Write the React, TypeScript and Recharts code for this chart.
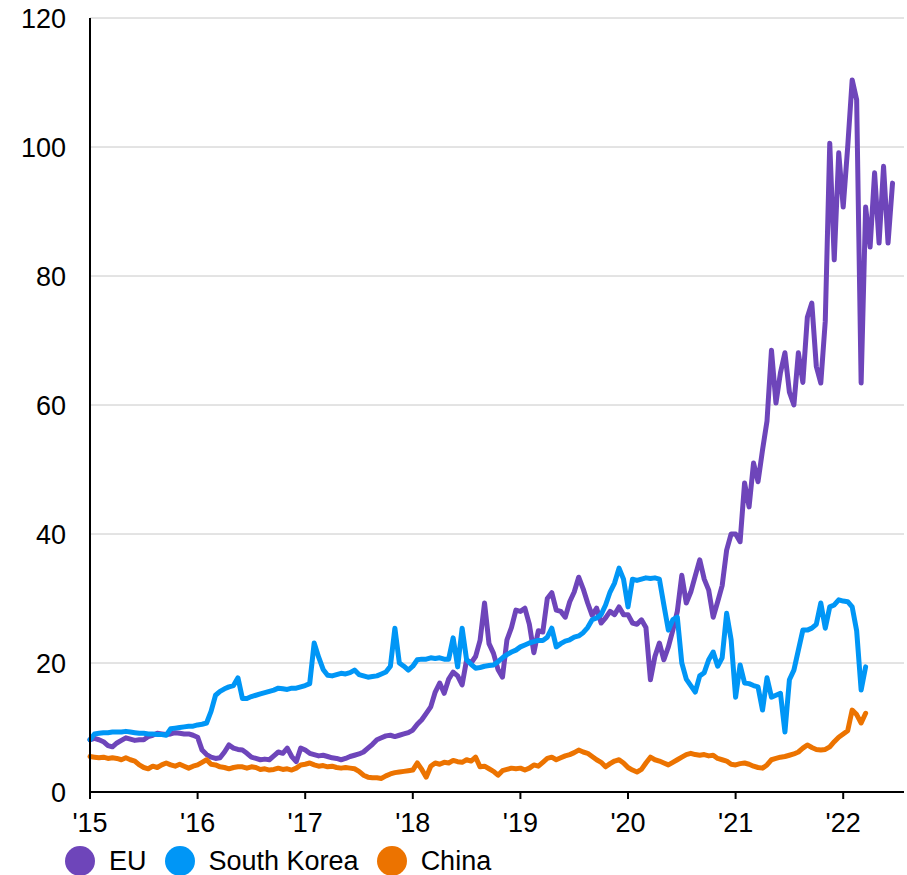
import React from 'react';
import { LineChart, Line, XAxis, YAxis, CartesianGrid } from 'recharts';

// half-month steps starting Jan 2015
const START_YEAR = 2015;
const STEPS_PER_YEAR = 24;

const years = [2015, 2016, 2017, 2018, 2019, 2020, 2021, 2022];
const yTicks = [0, 20, 40, 60, 80, 100, 120];

const euValues = [
  // 2015
  8.1, 8.3, 8.1, 7.8, 7.2, 7.0, 7.6, 8.0, 8.4, 8.2, 8.0, 8.1, 8.1, 8.6, 8.8, 9.1, 9.0, 8.9, 9.0, 9.2, 9.1, 9.0, 9.0, 8.8,
  // 2016
  8.5, 6.5, 5.8, 5.4, 5.2, 5.3, 6.2, 7.3, 6.8, 6.6, 6.5, 6.0, 5.4, 5.2, 5.0, 5.1, 5.0, 5.6, 6.2, 6.0, 6.8, 5.5, 4.7, 6.8,
  // 2017
  6.5, 6.0, 5.8, 5.6, 5.7, 5.5, 5.3, 5.2, 5.0, 5.2, 5.5, 5.7, 5.9, 6.2, 6.8, 7.4, 8.1, 8.4, 8.7, 8.8, 8.6, 8.8, 9.0, 9.2,
  // 2018
  9.6, 10.5, 11.2, 12.2, 13.2, 15.5, 16.9, 15.3, 17.5, 18.6, 18.0, 16.6, 20.5, 20.0, 21.0, 23.5, 29.3, 23.0, 21.5, 19.0, 17.8, 23.6, 25.5, 28.2,
  // 2019
  28.0, 28.5, 26.0, 21.6, 25.0, 24.8, 30.0, 30.9, 28.2, 28.0, 27.1, 29.5, 31.0, 33.3, 31.5, 29.3, 27.4, 28.5, 26.2, 27.0, 28.0, 27.5, 28.7, 27.5,
  // 2020
  27.5, 26.2, 26.0, 26.7, 25.5, 17.4, 21.0, 23.1, 20.5, 22.5, 25.1, 28.0, 33.6, 29.3, 31.0, 33.5, 36.0, 33.0, 31.3, 27.1, 29.5, 32.0, 37.5, 40.0,
  // 2021
  40.0, 38.8, 47.9, 44.2, 51.0, 48.1, 53.0, 57.5, 68.5, 60.3, 65.0, 68.1, 62.0, 60.0, 68.1, 63.5, 73.6, 75.8, 66.0, 63.4, 73.0, 100.6, 82.5, 99.1,
  // 2022
  90.7, 100.0, 110.4, 107.3, 63.4, 90.7, 84.5, 96.0, 85.1, 97.0, 85.1, 94.4,
];

const koreaValues = [
  // 2015
  8.1, 9.0, 9.1, 9.2, 9.2, 9.3, 9.3, 9.3, 9.4, 9.3, 9.2, 9.1, 9.1, 9.0, 9.0, 8.9, 8.9, 8.8, 9.8, 9.9, 10.0, 10.1, 10.2, 10.2,
  // 2016
  10.4, 10.5, 10.7, 12.5, 15.0, 15.6, 16.0, 16.3, 16.5, 17.7, 14.5, 14.5, 14.8, 15.0, 15.2, 15.4, 15.6, 15.8, 16.1, 16.0, 15.9, 16.1, 16.1, 16.3,
  // 2017
  16.5, 16.8, 23.1, 20.9, 19.0, 18.1, 18.0, 18.2, 18.4, 18.3, 18.5, 18.9, 18.2, 18.0, 17.8, 17.9, 18.0, 18.3, 18.6, 19.5, 25.4, 20.0, 19.5, 18.9,
  // 2018
  19.5, 20.5, 20.6, 20.6, 20.8, 20.7, 20.8, 20.6, 20.6, 23.9, 19.4, 25.4, 20.5, 19.8, 19.2, 19.3, 19.5, 19.6, 19.7, 20.2, 20.8, 21.3, 21.7, 22.0,
  // 2019
  22.5, 22.8, 23.1, 23.3, 23.5, 23.5, 24.0, 25.4, 22.5, 23.0, 23.4, 23.6, 24.0, 24.2, 24.7, 25.5, 26.7, 27.0, 27.5, 29.0, 31.0, 32.4, 34.7, 33.0,
  // 2020
  28.7, 33.0, 32.8, 33.0, 33.2, 33.1, 33.2, 33.0, 29.0, 25.1, 26.7, 27.1, 20.0, 17.5, 16.5, 15.5, 18.0, 18.5, 20.5, 21.7, 19.5, 20.8, 27.7, 23.6,
  // 2021
  14.7, 19.7, 16.9, 16.8, 16.5, 16.3, 12.7, 17.7, 14.7, 15.0, 15.3, 9.3, 17.4, 18.9, 22.0, 25.1, 25.1, 25.4, 26.0, 29.3, 25.4, 28.7, 29.0, 29.8,
  // 2022
  29.6, 29.5, 28.7, 25.0, 15.8, 19.4,
];

const chinaValues = [
  // 2015
  5.5, 5.4, 5.3, 5.4, 5.2, 5.3, 5.2, 5.0, 5.3, 5.0, 4.8, 4.2, 3.8, 3.6, 4.0, 3.8, 4.2, 4.5, 4.2, 4.0, 4.3, 4.0, 3.7, 4.0,
  // 2016
  4.2, 4.6, 5.0, 4.3, 4.2, 3.9, 3.8, 3.6, 3.8, 3.9, 3.9, 3.7, 3.9, 3.8, 3.5, 3.6, 3.4, 3.5, 3.7, 3.5, 3.6, 3.4, 3.7, 4.2,
  // 2017
  4.3, 4.5, 4.2, 4.0, 4.1, 3.9, 4.0, 3.8, 3.7, 3.8, 3.7, 3.6, 3.2, 2.6, 2.3, 2.2, 2.2, 2.1, 2.5, 2.8, 3.0, 3.1, 3.2, 3.3,
  // 2018
  3.4, 4.5, 3.5, 2.3, 4.0, 4.5, 4.3, 4.6, 4.5, 4.9, 4.7, 4.6, 5.0, 4.8, 5.4, 3.9, 4.0, 3.6, 3.2, 2.6, 3.3, 3.5, 3.7, 3.6,
  // 2019
  3.7, 3.4, 3.7, 4.2, 4.0, 4.6, 5.2, 5.4, 5.0, 5.3, 5.6, 5.8, 6.1, 6.5, 6.2, 6.0, 5.5, 5.0, 4.6, 3.9, 4.4, 4.8, 5.0, 4.5,
  // 2020
  3.8, 3.4, 3.1, 3.5, 4.5, 5.4, 5.0, 4.8, 4.5, 4.2, 4.6, 5.0, 5.4, 5.8, 6.0, 5.8, 5.7, 5.8, 5.6, 5.7, 5.2, 5.0, 4.8, 4.3,
  // 2021
  4.2, 4.4, 4.5, 4.3, 4.0, 3.8, 3.7, 4.2, 5.0, 5.2, 5.4, 5.5, 5.7, 5.9, 6.2, 6.8, 7.3, 6.9, 6.6, 6.5, 6.6, 7.0, 7.8, 8.5,
  // 2022
  9.0, 9.5, 12.7, 12.0, 10.7, 12.2,
];

const series = [
  { key: 'eu', name: 'EU', color: '#6E45BA', values: euValues },
  { key: 'korea', name: 'South Korea', color: '#0096F6', values: koreaValues },
  { key: 'china', name: 'China', color: '#EC7300', values: chinaValues },
];

const rowCount = Math.max(...series.map((s) => s.values.length));
const data = Array.from({ length: rowCount }, (_, i) => {
  const row: Record<string, number | null> = { t: START_YEAR + i / STEPS_PER_YEAR };
  series.forEach((s) => {
    row[s.key] = i < s.values.length ? s.values[i] : null;
  });
  return row;
});

const FONT = 'Arial, "Liberation Sans", sans-serif';

const App: React.FC = () => {
  return (
    <div style={{ position: 'absolute', left: 0, top: 0, width: 907, height: 875, background: '#fff', fontFamily: FONT }}>
      <LineChart width={907} height={875} data={data} margin={{ top: 18, right: 3, bottom: 0, left: 0 }}>
        <CartesianGrid vertical={false} stroke="#c8c8c8" strokeWidth={1} />
        <XAxis
          dataKey="t"
          type="number"
          domain={[2015, 2022.565]}
          ticks={years}
          tickFormatter={(v: number) => "'" + String(v).slice(2)}
          height={83}
          axisLine={{ stroke: '#000', strokeWidth: 2 }}
          tickLine={{ stroke: '#000', strokeWidth: 2 }}
          tickSize={7}
          tickMargin={14}
          tick={{ fill: '#000', fontSize: 27, fontFamily: FONT }}
        />
        <YAxis
          domain={[0, 120]}
          ticks={yTicks}
          width={90}
          axisLine={{ stroke: '#000', strokeWidth: 2 }}
          tickLine={false}
          tickSize={0}
          tickMargin={24}
          tick={{ fill: '#000', fontSize: 27, fontFamily: FONT }}
        />
        {series.map((s) => (
          <Line
            key={s.key}
            dataKey={s.key}
            name={s.name}
            type="linear"
            stroke={s.color}
            strokeWidth={5}
            strokeLinejoin="round"
            strokeLinecap="round"
            dot={false}
            activeDot={false}
            connectNulls={false}
            isAnimationActive={false}
          />
        ))}
      </LineChart>
      <div style={{ position: 'absolute', left: 65, top: 846, display: 'flex', alignItems: 'center', height: 30 }}>
        {series.map((s) => (
          <div key={s.key} style={{ display: 'flex', alignItems: 'center', marginRight: 18 }}>
            <span style={{ width: 30, height: 30, borderRadius: '50%', background: s.color, display: 'inline-block' }} />
            <span style={{ marginLeft: 14, fontSize: 27, lineHeight: '30px', color: '#000' }}>{s.name}</span>
          </div>
        ))}
      </div>
    </div>
  );
};

export default App;
